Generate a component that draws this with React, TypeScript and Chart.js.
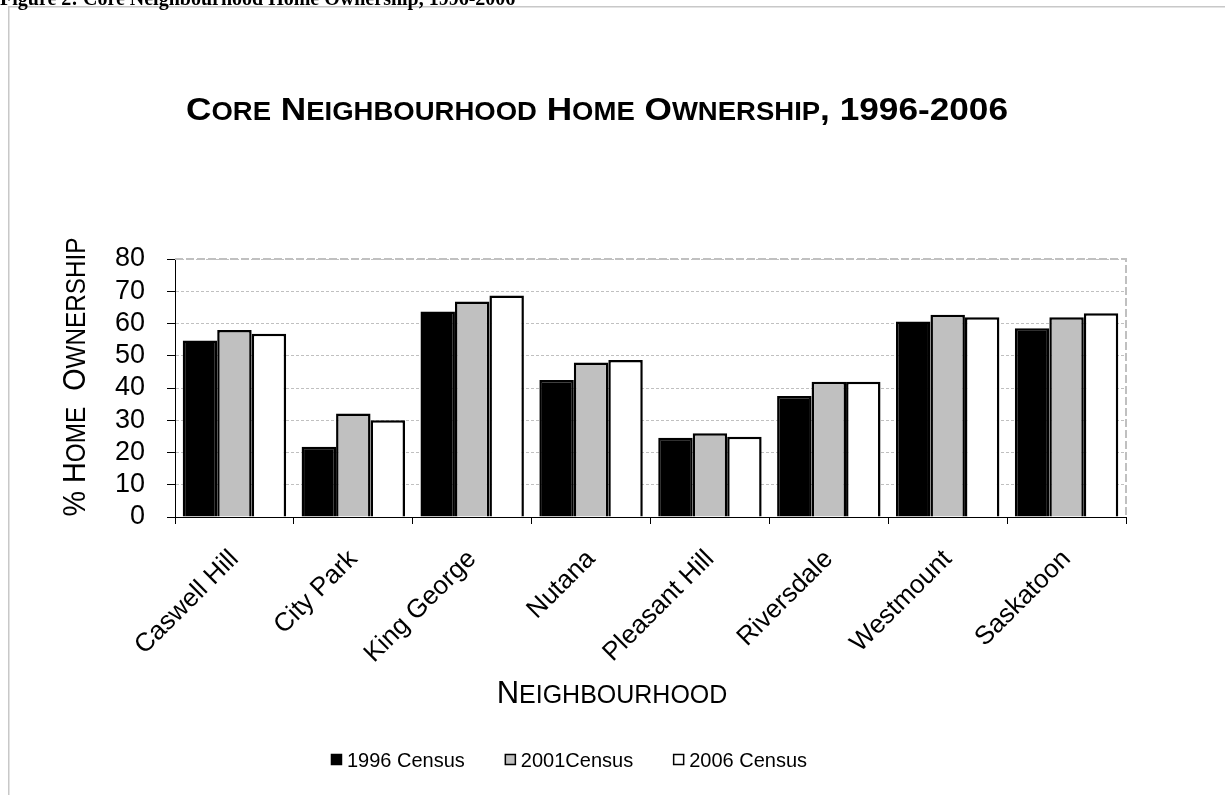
import React, { useEffect, useRef } from "react";
import { Chart, registerables } from "chart.js";

Chart.register(...registerables);

// ---- data ----
const CAPTION = "Figure 2: Core Neighbourhood Home Ownership, 1996-2006";
const TITLE = "Core Neighbourhood Home Ownership, 1996-2006";
const Y_TITLE = "% Home  Ownership";
const X_TITLE = "Neighbourhood";

const categories = [
  "Caswell Hill",
  "City Park",
  "King George",
  "Nutana",
  "Pleasant Hill",
  "Riversdale",
  "Westmount",
  "Saskatoon",
];
const census1996 = [54.7, 21.8, 63.7, 42.5, 24.6, 37.5, 60.6, 58.5];
const census2001 = [58.0, 32.1, 66.8, 47.9, 26.0, 41.9, 62.7, 61.9];
const census2006 = [56.8, 30.0, 68.7, 48.7, 24.9, 41.9, 61.9, 63.2];
const seriesLabels = ["1996 Census", "2001Census", "2006 Census"];
const seriesColors = ["#000000", "#c0c0c0", "#ffffff"];
const Y_MIN = 0;
const Y_MAX = 80;
const Y_STEP = 10;

const SANS = '"Liberation Sans", Arial, sans-serif';

type Run = { t: string; small: boolean };
function smallCapsRuns(text: string): Run[] {
  const runs: Run[] = [];
  for (const ch of text) {
    const small = ch !== ch.toUpperCase();
    const c = small ? ch.toUpperCase() : ch;
    const last = runs[runs.length - 1];
    if (last && last.small === small) last.t += c;
    else runs.push({ t: c, small });
  }
  return runs;
}

function drawSmallCaps(
  ctx: CanvasRenderingContext2D,
  text: string,
  x: number,
  y: number,
  big: number,
  small: number,
  weight: string,
  align: "center" | "left",
  sx = 1
) {
  const runs = smallCapsRuns(text);
  const fb = `${weight} ${big}px ${SANS}`;
  const fs = `${weight} ${small}px ${SANS}`;
  let total = 0;
  const widths: number[] = [];
  for (const r of runs) {
    ctx.font = r.small ? fs : fb;
    const w = ctx.measureText(r.t).width;
    widths.push(w);
    total += w;
  }
  const start = align === "center" ? x - (total * sx) / 2 : x;
  ctx.save();
  ctx.translate(start, y);
  ctx.scale(sx, 1);
  ctx.textAlign = "left";
  ctx.textBaseline = "alphabetic";
  ctx.fillStyle = "#000";
  let cx = 0;
  runs.forEach((r, i) => {
    ctx.font = r.small ? fs : fb;
    ctx.fillText(r.t, cx, 0);
    cx += widths[i];
  });
  ctx.restore();
}

const decor = {
  id: "decor",
  beforeDraw(chart: any) {
    const ctx: CanvasRenderingContext2D = chart.ctx;
    ctx.save();
    ctx.fillStyle = "#fff";
    ctx.fillRect(0, 0, chart.width, chart.height);
    // frame
    ctx.strokeStyle = "#c8c8c8";
    ctx.lineWidth = 1.5;
    ctx.beginPath();
    ctx.moveTo(8.75, chart.height + 2);
    ctx.lineTo(8.75, 6.75);
    ctx.lineTo(chart.width + 2, 6.75);
    ctx.stroke();
    // caption (cut at top)
    ctx.fillStyle = "#000";
    ctx.font = 'bold 20px "Liberation Serif", "Times New Roman", serif';
    ctx.textAlign = "left";
    ctx.textBaseline = "alphabetic";
    ctx.fillText(CAPTION, 0, 5);
    ctx.restore();
  },
  beforeDatasetsDraw(chart: any) {
    const ctx: CanvasRenderingContext2D = chart.ctx;
    const a = chart.chartArea;
    ctx.save();
    ctx.strokeStyle = "#c0c0c0";
    ctx.lineWidth = 2;
    ctx.setLineDash([8, 3]);
    ctx.beginPath();
    ctx.moveTo(a.left, a.top);
    ctx.lineTo(a.right, a.top);
    ctx.lineTo(a.right, a.bottom);
    ctx.stroke();
    ctx.restore();
  },
  afterDraw(chart: any) {
    const ctx: CanvasRenderingContext2D = chart.ctx;
    // title
    drawSmallCaps(ctx, TITLE, 597, 120, 32, 25, "bold", "center", 1.1);
    // y title
    ctx.save();
    ctx.translate(85, 377);
    ctx.rotate(-Math.PI / 2);
    drawSmallCaps(ctx, Y_TITLE, 0, 0, 32, 27, "normal", "center", 0.9);
    ctx.restore();
    // x title
    drawSmallCaps(ctx, X_TITLE, 612, 703, 31, 25, "normal", "center", 1.0);
    // legend
    ctx.save();
    ctx.font = `20px ${SANS}`;
    const box = 11;
    const gapBox = 5;
    const gapItem = 40;
    const items = chart.data.datasets.map((d: any) => ({
      label: d.label as string,
      color: d.backgroundColor as string,
      w: ctx.measureText(d.label).width,
    }));
    const total =
      items.reduce((s: number, it: any) => s + box + gapBox + it.w, 0) +
      gapItem * (items.length - 1);
    let x = 569 - total / 2;
    const yb = 767;
    items.forEach((it: any) => {
      ctx.fillStyle = it.color;
      ctx.fillRect(x, yb - 13, box, box);
      ctx.strokeStyle = "#000";
      ctx.lineWidth = 1.5;
      ctx.strokeRect(x + 0.5, yb - 12.5, box - 1, box - 1);
      ctx.fillStyle = "#000";
      ctx.textAlign = "left";
      ctx.textBaseline = "alphabetic";
      ctx.fillText(it.label, x + box + gapBox, yb);
      x += box + gapBox + it.w + gapItem;
    });
    ctx.restore();
  },
};

export default function App() {
  const ref = useRef<HTMLCanvasElement | null>(null);
  useEffect(() => {
    if (!ref.current) return;
    const series = [census1996, census2001, census2006];
    const chart = new Chart(ref.current, {
      type: "bar",
      data: {
        labels: categories,
        datasets: series.map((values, i) => ({
          label: seriesLabels[i],
          data: values,
          backgroundColor: seriesColors[i],
          borderColor: "#000",
          borderWidth: 2.5,
          categoryPercentage: 0.87,
          barPercentage: 1.0,
        })),
      },
      options: {
        animation: false,
        responsive: true,
        maintainAspectRatio: false,
        devicePixelRatio: 1,
        layout: { padding: { left: 0, right: 99, top: 259, bottom: 0 } },
        plugins: {
          legend: { display: false },
          title: { display: false },
          tooltip: { enabled: false },
        },
        scales: {
          x: {
            type: "category",
            offset: true,
            afterFit: (s: any) => {
              s.height = 278;
            },
            grid: {
              offset: true,
              drawOnChartArea: false,
              drawTicks: true,
              tickLength: 7,
              tickColor: "#000",
              tickWidth: 1,
            },
            border: { display: true, color: "#000", width: 1 },
            ticks: {
              maxRotation: 45,
              minRotation: 45,
              autoSkip: false,
              padding: 20,
              color: "#000",
              font: { family: SANS, size: 26 },
            },
          },
          y: {
            min: Y_MIN,
            max: Y_MAX,
            afterFit: (s: any) => {
              s.width = 175;
            },
            ticks: {
              stepSize: Y_STEP,
              autoSkip: false,
              padding: 22,
              color: "#000",
              font: { family: SANS, size: 27 },
            },
            grid: {
              color: "#c0c0c0",
              lineWidth: 1,
              drawTicks: true,
              tickLength: 8,
              tickColor: "#000",
              tickWidth: 1,
              tickBorderDash: [],
            },
            border: { display: true, color: "#000", width: 1, dash: [3, 2] },
          },
        },
      },
      plugins: [decor],
    } as any);
    return () => chart.destroy();
  }, []);
  return (
    <div style={{ position: "fixed", left: 0, top: 0, width: 1225, height: 795, background: "#fff" }}>
      <canvas ref={ref} />
    </div>
  );
}
